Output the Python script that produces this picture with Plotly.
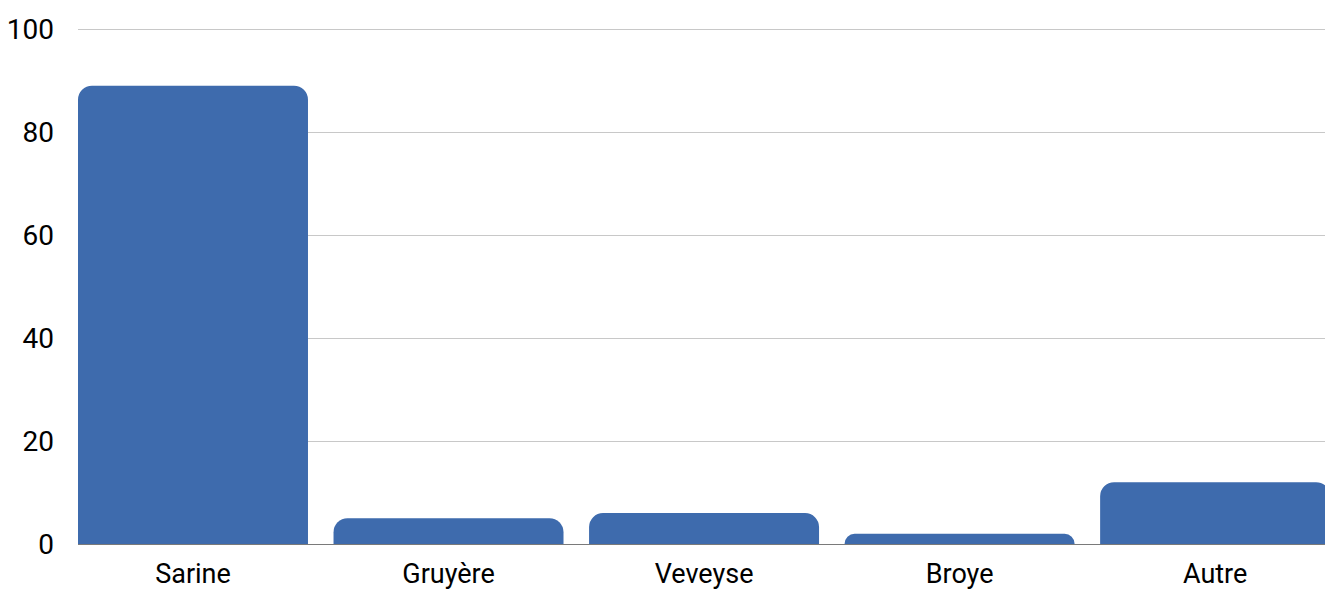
import plotly.graph_objects as go

categories = ["Sarine", "Gruyère", "Veveyse", "Broye", "Autre"]
values = [89, 5, 6, 2, 12]
y_ticks = [0, 20, 40, 60, 80, 100]

fig = go.Figure(go.Bar(
    x=categories, y=values,
    marker=dict(color="#3E6BAD", line=dict(width=0), cornerradius=14),
    hoverinfo="x+y",
))

fig.update_layout(
    width=1325, height=590,
    margin=dict(l=78, r=0, t=28, b=46),
    paper_bgcolor="white", plot_bgcolor="white",
    bargap=0.1,
    showlegend=False,
    font=dict(family="Roboto", size=27, color="black"),
)
fig.update_xaxes(
    range=[-0.45, 4.43], automargin=False,
    showgrid=False, showline=True, linecolor="#7a7a7a", linewidth=1,
    ticks="", ticklabelstandoff=6,
    tickfont=dict(size=27, color="black"),
)
fig.update_yaxes(
    range=[0, 100.2], tickvals=y_ticks, automargin=False,
    showgrid=True, gridcolor="#c8c8c8", gridwidth=1.3,
    zeroline=False, showline=False, ticks="",
    ticklabelstandoff=23,
    tickfont=dict(size=28, color="black"),
)

fig.write_html(
    "out.html",
    config={"displayModeBar": False},
    post_script="document.body.style.margin='0';document.body.style.overflow='hidden';",
)
